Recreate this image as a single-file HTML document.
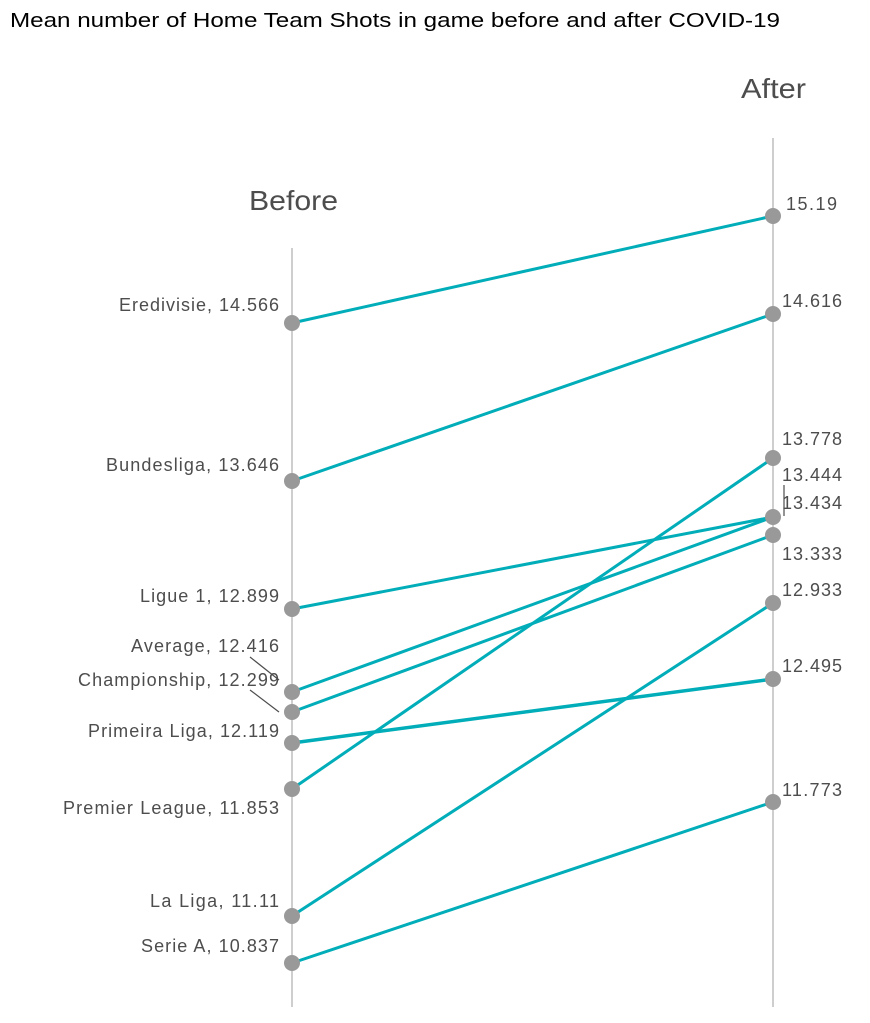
<!DOCTYPE html>
<html><head><meta charset="utf-8"><style>
html,body{margin:0;padding:0;background:#fff;}
svg{display:block;font-family:"Liberation Sans",Arial,sans-serif;}
</style></head><body>
<svg width="870" height="1023" viewBox="0 0 870 1023">
<text x="10" y="27" font-size="20" fill="#000" textLength="770" lengthAdjust="spacingAndGlyphs">Mean number of Home Team Shots in game before and after COVID-19</text>
<line x1="292" y1="248" x2="292" y2="1007" stroke="#bdbdbd" stroke-width="1.5"/>
<line x1="773" y1="138" x2="773" y2="1007" stroke="#bdbdbd" stroke-width="1.5"/>
<text x="249" y="210" font-size="28" fill="#4d4d4d" textLength="89" lengthAdjust="spacingAndGlyphs">Before</text>
<text x="741" y="98" font-size="28" fill="#4d4d4d" textLength="65" lengthAdjust="spacingAndGlyphs">After</text>
<g stroke="#00adb8" stroke-width="3" fill="none">
<line x1="292" y1="323" x2="773" y2="216"/>
<line x1="292" y1="481" x2="773" y2="314"/>
<line x1="292" y1="609" x2="773" y2="517"/>
<line x1="292" y1="692" x2="773" y2="517"/>
<line x1="292" y1="712" x2="773" y2="535"/>
<line x1="292" y1="743" x2="773" y2="679" stroke-width="3.5"/>
<line x1="292" y1="789" x2="773" y2="458"/>
<line x1="292" y1="916" x2="773" y2="603"/>
<line x1="292" y1="963" x2="773" y2="802"/>
</g>
<g fill="#999">
<circle cx="292" cy="323" r="8"/><circle cx="292" cy="481" r="8"/><circle cx="292" cy="609" r="8"/>
<circle cx="292" cy="692" r="8"/><circle cx="292" cy="712" r="8"/><circle cx="292" cy="743" r="8"/>
<circle cx="292" cy="789" r="8"/><circle cx="292" cy="916" r="8"/><circle cx="292" cy="963" r="8"/>
<circle cx="773" cy="216" r="8"/><circle cx="773" cy="314" r="8"/><circle cx="773" cy="458" r="8"/>
<circle cx="773" cy="517" r="8"/><circle cx="773" cy="535" r="8"/><circle cx="773" cy="603" r="8"/>
<circle cx="773" cy="679" r="8"/><circle cx="773" cy="802" r="8"/>
</g>
<g stroke="#4d4d4d" stroke-width="1.2">
<line x1="250" y1="657" x2="279" y2="680"/>
<line x1="250" y1="690" x2="279" y2="712"/>
<line x1="784" y1="485" x2="784" y2="516"/>
</g>
<g font-size="18" fill="#4d4d4d" lengthAdjust="spacingAndGlyphs">
<text x="119" y="311" textLength="160">Eredivisie, 14.566</text>
<text x="106" y="471" textLength="173">Bundesliga, 13.646</text>
<text x="140" y="602" textLength="139">Ligue 1, 12.899</text>
<text x="131" y="652" textLength="148">Average, 12.416</text>
<text x="78" y="686" textLength="201">Championship, 12.299</text>
<text x="88" y="737" textLength="191">Primeira Liga, 12.119</text>
<text x="63" y="814" textLength="216">Premier League, 11.853</text>
<text x="150" y="907" textLength="129">La Liga, 11.11</text>
<text x="141" y="952" textLength="138">Serie A, 10.837</text>
</g>
<g font-size="18" fill="#4d4d4d" lengthAdjust="spacingAndGlyphs">
<text x="786" y="210" textLength="51">15.19</text>
<text x="782" y="307" textLength="60">14.616</text>
<text x="782" y="445" textLength="60">13.778</text>
<text x="782" y="481" textLength="60">13.444</text>
<text x="782" y="509" textLength="60">13.434</text>
<text x="782" y="560" textLength="60">13.333</text>
<text x="782" y="596" textLength="60">12.933</text>
<text x="782" y="672" textLength="60">12.495</text>
<text x="782" y="796" textLength="60">11.773</text>
</g>
</svg>
</body></html>
